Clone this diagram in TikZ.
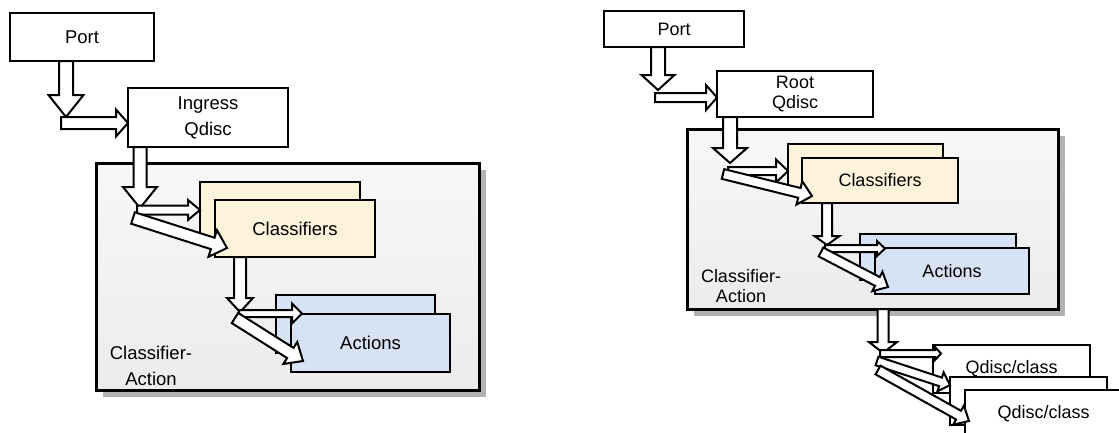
\documentclass[tikz,border=0pt]{standalone}
\usepackage{fontspec}
\setmainfont{Liberation Sans}
\usetikzlibrary{calc, shadows}
\definecolor{clsfill}{HTML}{FCF3DA}
\definecolor{actfill}{HTML}{D5E3F4}
\definecolor{shadowgray}{HTML}{B2B2B2}

% hollow block arrow: from, to, shaft width, head width, head length
\newcommand\blkarrow[5]{%
  \draw[blk] ($(#1)!#3/2!90:(#2)$) -- ($(#2)!#5!(#1)!#3/2!-90:(#1)$)
    -- ($(#2)!#5!(#1)!#4/2!-90:(#1)$) -- (#2)
    -- ($(#2)!#5!(#1)!#4/2!90:(#1)$) -- ($(#2)!#5!(#1)!#3/2!90:(#1)$)
    -- ($(#1)!#3/2!-90:(#2)$) -- cycle;}

\begin{document}
\begin{tikzpicture}[
  x=1pt, y=-1pt,
  sz/.style 2 args={minimum width=#1pt, minimum height=#2pt},
  box/.style={draw, line width=2.6pt, fill=white, inner sep=0pt, outer sep=0pt, anchor=north west, align=center},
  cls/.style={box, fill=clsfill},
  act/.style={box, fill=actfill},
  cont/.style={box, line width=3pt, top color=gray!6, bottom color=gray!15,
    drop shadow={shadow xshift=7pt, shadow yshift=-7pt, fill=shadowgray, opacity=1}},
  lbl/.style={inner sep=0pt, align=center},
  blk/.style={draw=black, fill=white, line width=2pt, line join=miter}
]
\useasboundingbox (0,0) rectangle (1119,432);
\clip (0,0) rectangle (1119,432);

% ingress side
\begin{scope}[font=\fontsize{18.5}{26}\selectfont]
\node[cont, sz={383}{227}] (lcont) at (96,163) {};
\node[cls, sz={160}{57}] (lclsb) at (200,182) {};
\node[cls, sz={160}{57}] (lcls) at (215,200) {Classifiers};
\node[act, sz={159}{58}] (lactb) at (276,295) {};
\node[act, sz={159}{58}] (lact) at (291,314) {Actions};
\node[box, sz={144}{48}] (lport) at (10,13) {Port};
\node[box, sz={160}{59}] (lingress) at (128,88) {Ingress\\Qdisc};
\node[lbl] (llabel) at (151,366) {Classifier-\\Action};

\coordinate (l1) at ([xshift=56pt]lport.south west);
\coordinate (l2) at (66,117);
\blkarrow{l1}{l2}{14pt}{35pt}{22pt}
\coordinate (l3) at (61,123);
\coordinate (l4) at (lingress.west |- l3);
\blkarrow{l3}{l4}{12pt}{27pt}{12pt}
\coordinate (l5) at ([xshift=12pt]lingress.south west);
\coordinate (l6) at (140,208);
\blkarrow{l5}{l6}{13pt}{34pt}{21pt}
\coordinate (l7) at (137,210);
\coordinate (l8) at (lclsb.west |- l7);
\blkarrow{l7}{l8}{9pt}{20pt}{12pt}
\coordinate (l9) at (133,218);
\coordinate (l10) at (227,248);
\blkarrow{l9}{l10}{12pt}{28pt}{15pt}
\coordinate (l11) at ([xshift=25pt]lcls.south west);
\coordinate (l12) at (240,312);
\blkarrow{l11}{l12}{12pt}{26pt}{14pt}
\coordinate (l13) at (239,313.5);
\coordinate (l14) at (302,313.5);
\blkarrow{l13}{l14}{7pt}{20pt}{10pt}
\coordinate (l15) at (235,318);
\coordinate (l16) at (303,361);
\blkarrow{l15}{l16}{12pt}{26pt}{15pt}
\end{scope}

% egress side
\begin{scope}[font=\fontsize{18}{20}\selectfont]
\node[cont, sz={371}{180}] (rcont) at (687,129) {};
\node[cls, sz={155}{45}] (rclsb) at (788,144) {};
\node[cls, sz={156}{45}] (rcls) at (802,158) {Classifiers};
\node[act, sz={156}{46}] (ractb) at (860,234) {};
\node[act, sz={154}{46}] (ract) at (875,248) {Actions};
\node[box, sz={140}{36}] (rport) at (604,11) {Port};
\node[box, sz={156}{46}] (rroot) at (717,71) {Root\\Qdisc};
\node[lbl] (rlabel) at (741,286) {Classifier-\\Action};
\node[box, sz={157}{48}] (q1) at (933,345) {Qdisc/class};
\node[box, sz={157}{48}] (q2) at (950,377) {};
\node[box, sz={157}{48}] (q3) at (965,390) {Qdisc/class};

\coordinate (r1) at ([xshift=54pt]rport.south west);
\coordinate (r2) at (658,90);
\blkarrow{r1}{r2}{14pt}{33pt}{15pt}
\coordinate (r3) at (655,97.5);
\coordinate (r4) at (rroot.west |- r3);
\blkarrow{r3}{r4}{9pt}{25pt}{11pt}
\coordinate (r5) at ([xshift=13pt]rroot.south west);
\coordinate (r6) at (730,163);
\blkarrow{r5}{r6}{14pt}{34pt}{15pt}
\coordinate (r7) at (728,171);
\coordinate (r8) at (rclsb.west |- r7);
\blkarrow{r7}{r8}{8pt}{23pt}{12pt}
\coordinate (r9) at (723,174);
\coordinate (r10) at (812,196);
\blkarrow{r9}{r10}{10pt}{24pt}{13pt}
\coordinate (r11) at ([xshift=25pt]rcls.south west);
\coordinate (r12) at (827,245);
\blkarrow{r11}{r12}{10pt}{25pt}{9pt}
\coordinate (r13) at (825,248.5);
\coordinate (r14) at (885,248.5);
\blkarrow{r13}{r14}{7pt}{15pt}{8pt}
\coordinate (r15) at (821,252);
\coordinate (r16) at (888,287);
\blkarrow{r15}{r16}{10pt}{22pt}{12pt}
\coordinate (r17) at ([xshift=196pt]rcont.south west);
\coordinate (r18) at (883,353);
\blkarrow{r17}{r18}{11pt}{28pt}{11pt}
\coordinate (r19) at (880,353.5);
\coordinate (r20) at (941,353.5);
\blkarrow{r19}{r20}{7pt}{13pt}{6pt}
\coordinate (r21) at (877,361);
\coordinate (r22) at (950,385);
\blkarrow{r21}{r22}{9pt}{20pt}{10pt}
\coordinate (r23) at (878,370);
\coordinate (r24) at (969,421);
\blkarrow{r23}{r24}{10pt}{22pt}{12pt}
\end{scope}
\end{tikzpicture}
\end{document}
